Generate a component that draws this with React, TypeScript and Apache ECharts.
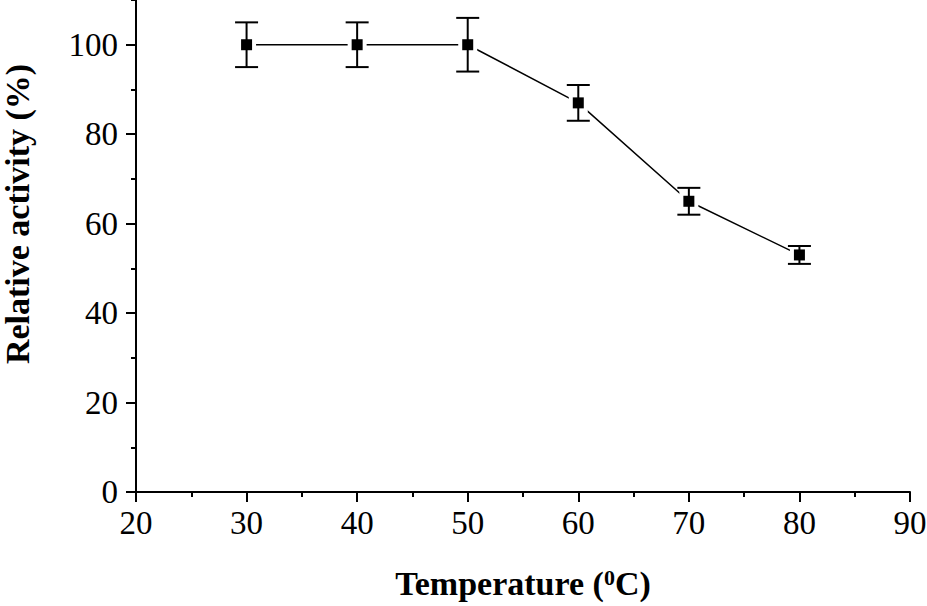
import React, { useEffect, useRef } from "react";
import * as echarts from "echarts";

const temperatures = [30, 40, 50, 60, 70, 80];
const activity = [100, 100, 100, 87, 65, 53];
const errors = [5, 5, 6, 4, 3, 2];
const yMajorTicks = [0, 20, 40, 60, 80, 100];
const yMinorTicks = [10, 30, 50, 70, 90, 110];

const FONT = "Liberation Serif";

export default function App() {
  const ref = useRef<HTMLDivElement>(null);
  useEffect(() => {
    if (!ref.current) return;
    const chart = echarts.init(ref.current, null, { renderer: "svg" });
    const lineData = temperatures.map((t, i) => [t, activity[i]]);
    const errData = temperatures.map((t, i) => [t, activity[i], errors[i]]);
    const axisCommon = {
      axisLine: { show: true, lineStyle: { color: "#000", width: 2 } },
      splitLine: { show: false },
    };
    chart.setOption({
      animation: false,
      backgroundColor: "#fff",
      grid: { left: 136, right: 17, top: 0, bottom: 114, containLabel: false, outerBoundsMode: "none" },
      xAxis: {
        type: "value",
        min: 20,
        max: 90,
        interval: 10,
        ...axisCommon,
        axisTick: { show: true, inside: false, length: 10, lineStyle: { color: "#000", width: 2 } },
        minorTick: { show: true, splitNumber: 2, length: 5, lineStyle: { color: "#000", width: 2 } },
        axisLabel: { color: "#000", fontFamily: FONT, fontSize: 33, margin: 14 },
        name: "{b|Temperature (}{s|0}{b|C)}",
        nameLocation: "middle",
        nameGap: 74,
        nameTextStyle: {
          rich: {
            b: { fontFamily: FONT, fontWeight: "bold", fontSize: 34, color: "#000", lineHeight: 34 },
            s: { fontFamily: FONT, fontWeight: "bold", fontSize: 22, color: "#000", verticalAlign: "top", lineHeight: 22 },
          },
        },
      },
      yAxis: [
        {
          type: "value",
          min: 0,
          max: 110,
          interval: 10,
          ...axisCommon,
          axisTick: { show: true, inside: false, length: 10, customValues: yMajorTicks, lineStyle: { color: "#000", width: 2 } },
          axisLabel: { color: "#000", fontFamily: FONT, fontSize: 33, margin: 18, customValues: yMajorTicks },
        },
        {
          type: "value",
          min: 0,
          max: 110,
          interval: 10,
          position: "left",
          axisLine: { show: false },
          splitLine: { show: false },
          axisLabel: { show: false },
          axisTick: { show: true, inside: false, length: 5, customValues: yMinorTicks, lineStyle: { color: "#000", width: 2 } },
        },
      ],
      graphic: [
        {
          type: "text",
          x: 17,
          y: 214,
          rotation: Math.PI / 2,
          style: {
            text: "Relative activity (%)",
            fontFamily: FONT,
            fontWeight: "bold",
            fontSize: 34,
            fill: "#000",
            textAlign: "center",
            textVerticalAlign: "middle",
          },
        },
      ],
      series: [
        {
          type: "line",
          data: lineData,
          symbol: "none",
          lineStyle: { color: "#000", width: 1.5 },
          z: 2,
        },
        {
          type: "custom",
          data: errData,
          z: 3,
          renderItem: (params: any, api: any) => {
            const x = api.value(0);
            const y = api.value(1);
            const e = api.value(2);
            const p = api.coord([x, y]);
            const hi = api.coord([x, y + e]);
            const lo = api.coord([x, y - e]);
            const cap = 11.5;
            const ls = { stroke: "#000", lineWidth: 2 };
            return {
              type: "group",
              children: [
                { type: "rect", shape: { x: p[0] - 9.5, y: p[1] - 9.5, width: 19, height: 19 }, style: { fill: "#fff" } },
                { type: "line", shape: { x1: p[0], y1: hi[1], x2: p[0], y2: lo[1] }, style: ls },
                { type: "line", shape: { x1: p[0] - cap, y1: hi[1], x2: p[0] + cap, y2: hi[1] }, style: ls },
                { type: "line", shape: { x1: p[0] - cap, y1: lo[1], x2: p[0] + cap, y2: lo[1] }, style: ls },
                { type: "rect", shape: { x: p[0] - 5.5, y: p[1] - 5.5, width: 11, height: 11 }, style: { fill: "#000" } },
              ],
            };
          },
        },
      ],
    });
    return () => chart.dispose();
  }, []);
  return <div ref={ref} style={{ position: "fixed", left: 0, top: 0, width: 927, height: 606 }} />;
}
